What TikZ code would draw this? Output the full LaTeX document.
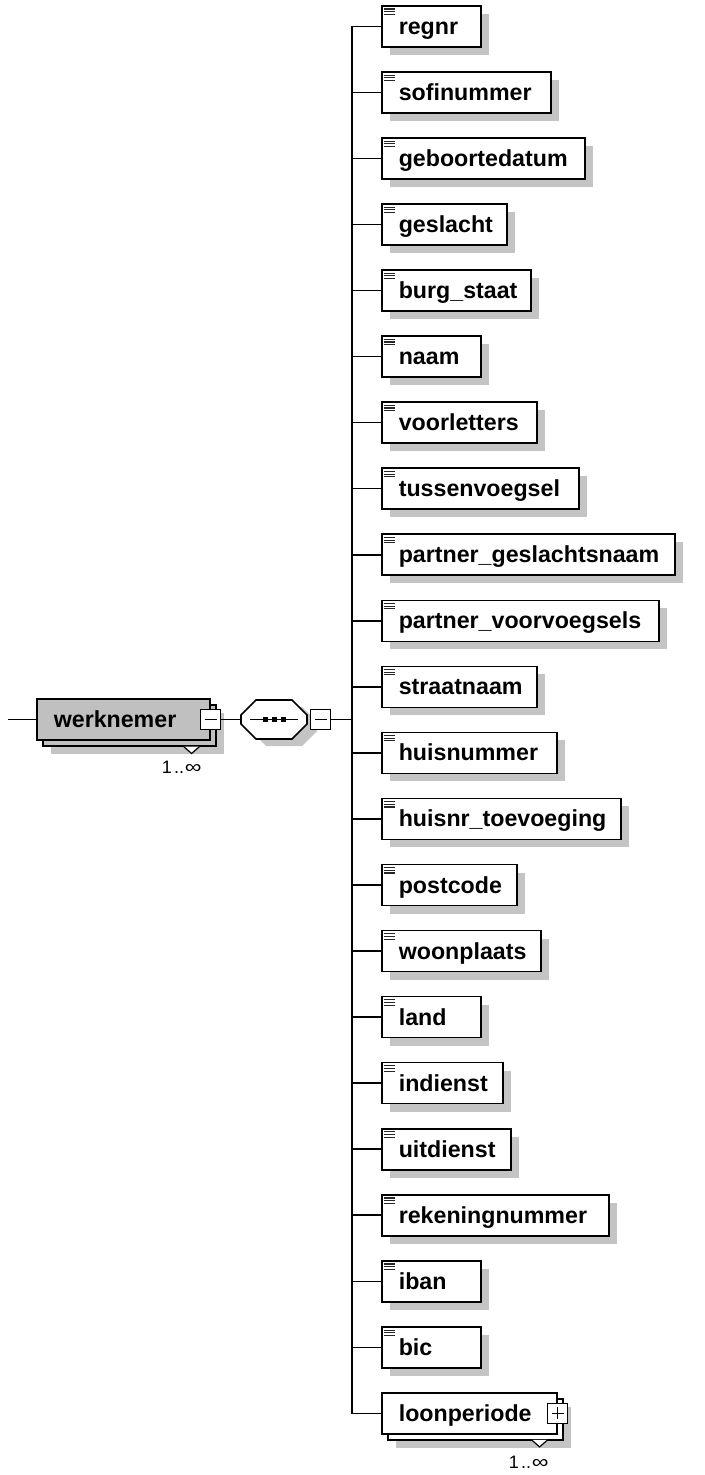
\documentclass[tikz,border=0pt]{standalone}
\usepackage{fontspec}
\setmainfont{Liberation Sans}
\usepackage{graphicx}
\usepackage{tikz}
\usetikzlibrary{%
	positioning,% wg. " of "
	shapes.misc,% wg. chamfered rectangle
	shadows%
}
\definecolor{shadowgray}{RGB}{196,196,196}
\definecolor{elemgray}{RGB}{192,192,192}
\newcommand{\elemfont}{\bfseries\fontsize{11.6pt}{13pt}\selectfont}
\newcommand{\occfont}{\fontsize{9pt}{11pt}\selectfont}
\newcommand{\occtext}{1\kern1.2pt..\kern0.3pt\scalebox{1.3}[1.05]{∞}}
\tikzstyle{link} = [draw, line width = 0.8pt]
\tikzstyle{icon} = [draw, line width = 0.55pt, black!85]
\tikzstyle{box} = [rectangle, draw, line width = 0.8pt, minimum height = 20.5pt, inner xsep = 8.5pt, inner ysep = 0pt, text height = 10.5pt, text depth = 2.5pt, font = \elemfont]
\tikzstyle{element} = [box, fill = white, drop shadow = {shadow xshift = 4pt, shadow yshift = -4pt, fill = shadowgray, opacity = 1}]
\tikzset{multi/.style = {box, fill = #1,
	drop shadow = {shadow xshift = 7pt, shadow yshift = -7pt, fill = shadowgray, opacity = 1},
	copy shadow = {shadow xshift = 3pt, shadow yshift = -3pt, draw, line width = 0.8pt, fill = #1}}}
\tikzstyle{togglebox} = [rectangle, draw, fill = white, line width = 0.8pt, minimum size = 10pt, inner sep = 0pt]
\tikzstyle{minusbox} = [togglebox, path picture = {
	\draw[line width = 0.6pt] ([xshift = 2pt]path picture bounding box.west) -- ([xshift = -2pt]path picture bounding box.east);}]
\tikzstyle{plusbox} = [togglebox, path picture = {
	\draw[line width = 0.6pt] ([xshift = 2pt]path picture bounding box.west) -- ([xshift = -2pt]path picture bounding box.east);
	\draw[line width = 0.6pt] ([yshift = -2pt]path picture bounding box.north) -- ([yshift = 2pt]path picture bounding box.south);}]
\tikzstyle{sequence} = [chamfered rectangle, chamfered rectangle xsep = 3pt, chamfered rectangle ysep = 4.5pt, draw, fill = white, line width = 0.8pt, inner xsep = 13.5pt, inner ysep = 5.25pt, drop shadow = {shadow xshift = 5pt, shadow yshift = -3.5pt, fill = shadowgray, opacity = 1}, path picture = {
	\draw[black, line width = 0.6pt] ([xshift = -12pt]path picture bounding box.center) -- ([xshift = 12pt]path picture bounding box.center);
	\foreach \dx in {-4.5, 0, 4.5}
	\fill[black] ([xshift = \dx pt]path picture bounding box.center) +(-1.25pt,-1.25pt) rectangle +(1.25pt,1.25pt);}]
\tikzstyle{notch} = [draw, fill = white, line width = 0.6pt]
\tikzstyle{occ} = [font = \occfont, inner sep = 0pt]

\begin{document}
\begin{tikzpicture}[x = 0.5pt, y = -0.5pt]
	\useasboundingbox (0,0) rectangle (705,1475);
	
	% First we draw the root element and the sequence
	\coordinate (start) at (8,719.5);
	\node[multi = elemgray, anchor = west] (werknemer) at (36,719.5) {\makebox[69.5pt][l]{werknemer}};
	\node[minusbox] (werknemertoggle) at (werknemer.east) {};
	\draw[notch] ([shift = {(-27,27)}]werknemer.east) -- ++(8,7) -- ++(8,-7);
	\node[occ] (werknemerocc) at ([shift = {(-29,48)}]werknemer.east) {\occtext};
	\node[sequence] (seq) at (274,719.5) {};
	\node[minusbox, right = 1pt of seq] (seqtoggle) {};
	\coordinate (trunk) at (352,719.5);
	\path[link] (start) -- (werknemer);
	\path[link] (werknemertoggle) -- (seq);
	\path[link] (seqtoggle) -- (trunk);
	
	% Then the child elements
	\foreach \name/\txt/\w [count=\i from 0] in {
		regnr/regnr/99, sofinummer/sofinummer/169, geboortedatum/geboortedatum/203,
		geslacht/geslacht/125, burgstaat/burg\_staat/149, naam/naam/99,
		voorletters/voorletters/155, tussenvoegsel/tussenvoegsel/197,
		partnergeslachtsnaam/partner\_geslachtsnaam/293,
		partnervoorvoegsels/partner\_voorvoegsels/277, straatnaam/straatnaam/155,
		huisnummer/huisnummer/175, huisnrtoevoeging/huisnr\_toevoeging/239,
		postcode/postcode/135, woonplaats/woonplaats/159, land/land/99,
		indienst/indienst/121, uitdienst/uitdienst/129,
		rekeningnummer/rekeningnummer/227, iban/iban/99, bic/bic/99}
	{
		\pgfmathsetmacro{\tw}{(\w-34)/2}
		\node[element, anchor = west] (\name) at (381,26.35+66.05*\i) {\makebox[\tw pt][l]{\txt}};
		\foreach \k in {0,1,2}
		\draw[icon] ([xshift = 1.5pt, yshift = -2pt-1.33*\k pt]\name.north west) -- ++(5.5pt,0);
		\path[link] (trunk) |- (\name.west);
	}
	
	% Last child repeats
	\node[multi = white, anchor = west] (loonperiode) at (381,26.35+66.05*21) {\makebox[70.5pt][l]{loonperiode}};
	\node[plusbox] (loonperiodetoggle) at (loonperiode.east) {};
	\draw[notch] ([shift = {(-26,26.5)}]loonperiode.east) -- ++(8,7) -- ++(8,-7);
	\node[occ] (loonperiodeocc) at ([shift = {(-29,48.5)}]loonperiode.east) {\occtext};
	\path[link] (trunk) |- (loonperiode.west);
	
\end{tikzpicture}
\end{document}
